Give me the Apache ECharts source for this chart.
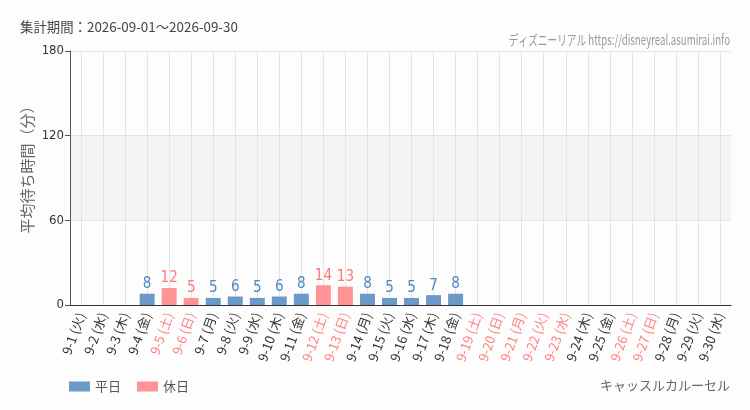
<!DOCTYPE html>
<html style="height: 100%">
<head>
    <meta charset="utf-8">
    <script type="text/javascript" src="https://cdn.jsdelivr.net/npm/echarts@6/dist/echarts.min.js"></script>
</head>
<body style="height: 100%; margin: 0; background: #fcfdfc">
<div id="container" style="width: 750px; height: 410px"></div>
<script type="text/javascript">
    var days = ['9-1 (火)', '9-2 (水)', '9-3 (木)', '9-4 (金)', '9-5 (土)', '9-6 (日)', '9-7 (月)', '9-8 (火)', '9-9 (水)', '9-10 (木)',
        '9-11 (金)', '9-12 (土)', '9-13 (日)', '9-14 (月)', '9-15 (火)', '9-16 (水)', '9-17 (木)', '9-18 (金)', '9-19 (土)', '9-20 (日)',
        '9-21 (月)', '9-22 (火)', '9-23 (水)', '9-24 (木)', '9-25 (金)', '9-26 (土)', '9-27 (日)', '9-28 (月)', '9-29 (火)', '9-30 (水)'];
    // 1 = 休日 (土日祝)
    var holidays = [0, 0, 0, 0, 1, 1, 0, 0, 0, 0,
        0, 1, 1, 0, 0, 0, 0, 0, 1, 1,
        1, 1, 1, 0, 0, 1, 1, 0, 0, 0];
    // 平均待ち時間(分), null = データなし
    var waits = [null, null, null, 8, 12, 5, 5, 6, 5, 6,
        8, 14, 13, 8, 5, 5, 7, 8, null, null,
        null, null, null, null, null, null, null, null, null, null];
    var yTicks = [0, 60, 120, 180];

    var blue = '#6b9ac8', pink = '#ff9396';
    var narrow = '"Liberation Sans Narrow", "DejaVu Sans Condensed", "Noto Sans CJK JP", sans-serif';
    var jp = '"Noto Sans CJK JP", sans-serif';

    var weekdayData = waits.map(function (v, i) { return (v !== null && !holidays[i]) ? v : '-'; });
    var holidayData = waits.map(function (v, i) { return (v !== null && holidays[i]) ? v : '-'; });

    var myChart = echarts.init(document.getElementById('container'));
    var option = {
        backgroundColor: '#fcfdfc',
        animation: false,
        title: {
            text: '集計期間：2026-09-01～2026-09-30',
            left: 15, top: 15,
            textStyle: {fontSize: 13.4, fontWeight: 'normal', color: '#444', fontFamily: jp}
        },
        graphic: [{
            type: 'text', x: 730, y: 40, scaleX: 0.69,
            style: {text: 'ディズニーリアル https://disneyreal.asumirai.info', fill: '#999',
                font: '14px ' + jp, align: 'right', verticalAlign: 'middle'}
        }, {
            type: 'text', x: 730, y: 385,
            style: {text: 'キャッスルカルーセル', fill: '#666', font: '13px ' + jp,
                align: 'right', verticalAlign: 'middle'}
        }, {
            // y軸タイトル
            type: 'text', x: 27, y: 166, rotation: Math.PI / 2,
            style: {text: '平均待ち時間（分）', fill: '#666', font: '15px ' + jp,
                align: 'center', verticalAlign: 'middle'}
        }],
        legend: {
            left: 64, top: 375,
            itemWidth: 21, itemHeight: 10, itemGap: 16,
            icon: 'rect',
            data: ['平日', '休日'],
            textStyle: {fontSize: 13, color: '#555', fontFamily: jp}
        },
        grid: {left: 70, right: 19, top: 51, bottom: 105},
        xAxis: {
            type: 'category',
            data: days,
            axisLine: {lineStyle: {color: '#333'}},
            axisTick: {alignWithLabel: true, length: 5, lineStyle: {color: '#333'}},
            splitLine: {show: true, alignWithLabel: true, lineStyle: {color: '#e4e4e4'}},
            axisLabel: {
                interval: 0, rotate: 70, fontSize: 13, fontFamily: jp, margin: 8,
                color: function (val, idx) { return holidays[idx] ? '#ff8080' : '#333'; }
            }
        },
        yAxis: {
            type: 'value',
            min: yTicks[0], max: yTicks[yTicks.length - 1], interval: yTicks[1] - yTicks[0],
            axisLine: {show: true, lineStyle: {color: '#555'}},
            axisTick: {show: true, length: 5, lineStyle: {color: '#555'}},
            axisLabel: {fontSize: 13, color: '#333', fontFamily: narrow, margin: 6},
            splitLine: {lineStyle: {color: '#e4e4e4'}},
            splitArea: {show: true, areaStyle: {color: ['rgba(0,0,0,0)', '#f4f4f4']}}
        },
        series: [{
            name: '平日', type: 'bar', data: weekdayData,
            barWidth: '68%', barGap: '-100%',
            itemStyle: {color: blue},
            label: {show: true, position: 'top', distance: 2, color: '#4d87c0', fontSize: 15, fontFamily: narrow}
        }, {
            name: '休日', type: 'bar', data: holidayData,
            barWidth: '68%', barGap: '-100%',
            itemStyle: {color: pink},
            label: {show: true, position: 'top', distance: 2, color: '#ff7878', fontSize: 15, fontFamily: narrow}
        }]
    };
    myChart.setOption(option);
</script>
</body>
</html>
